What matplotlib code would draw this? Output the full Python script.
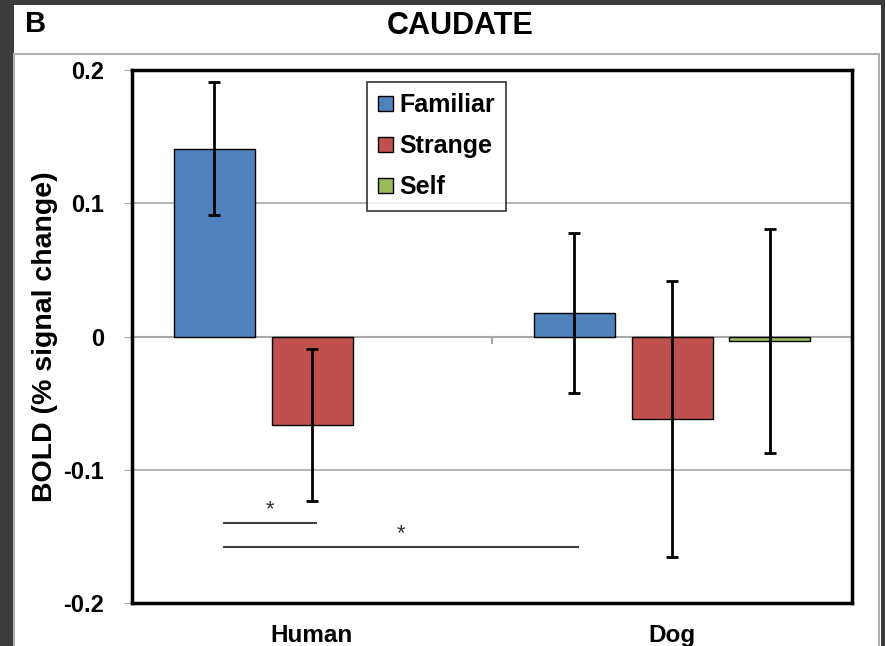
import numpy as np
import matplotlib.pyplot as plt
from matplotlib.patches import Rectangle

groups = ["Human", "Dog"]
conditions = ["Familiar", "Strange", "Self"]
colors = ["#4F81BD", "#C0504D", "#9BBB59"]

# mean BOLD per condition, [Human, Dog]
familiar = [0.141, 0.0175]
strange = [-0.0665, -0.062]
self_ = [np.nan, -0.0035]
familiar_err = [0.050, 0.060]
strange_err = [0.057, 0.1035]
self_err = [np.nan, 0.084]

# significance brackets: (x start, x end, y, label)
sig_lines = [(-0.245, 0.01, -0.140, "*"), (-0.245, 0.74, -0.158, "*")]

plt.rcParams['font.family'] = ['Liberation Sans', 'DejaVu Sans']
plt.rcParams['font.weight'] = 'bold'

fig = plt.figure(figsize=(8.85, 6.46), dpi=100, facecolor="#3c3c3c")
fig.patches.append(Rectangle((14 / 885, 0), 867 / 885, 641 / 646, transform=fig.transFigure,
                             facecolor="white", edgecolor="none", zorder=-2))
fig.patches.append(Rectangle((14 / 885, -0.01), 865 / 885, 1 - 54 / 646 + 0.01, transform=fig.transFigure,
                             facecolor="none", edgecolor="#b0b0b0", lw=1.5, zorder=-1))

ax = fig.add_axes([132 / 885, 1 - 603 / 646, 720 / 885, 533 / 646])
ax.set_zorder(2)

x = np.arange(len(groups))
w = 0.225
step = 0.272
series = [(familiar, familiar_err), (strange, strange_err), (self_, self_err)]
for i, (vals, errs) in enumerate(series):
    pos = x + (i - 1) * step
    ax.bar(pos, vals, w, color=colors[i], edgecolor="black", linewidth=1, label=conditions[i], zorder=3)
    ax.errorbar(pos, vals, yerr=errs, fmt="none", ecolor="black", elinewidth=2,
                capsize=4.5, capthick=2, zorder=4)

ax.set_xlim(-0.5, 1.5)
ax.set_ylim(-0.2, 0.2)
ax.set_yticks([-0.2, -0.1, 0, 0.1, 0.2])
ax.set_yticklabels(["-0.2", "-0.1", "0", "0.1", "0.2"], fontsize=17, fontweight="bold")
for yv in [0.1, -0.1]:
    ax.axhline(yv, color="#a8a8a8", lw=1.2, zorder=1)
ax.axhline(0, color="#a8a8a8", lw=1.5, zorder=2)
for b in (x[:-1] + x[1:]) / 2:
    ax.plot([b, b], [0, -0.005], color="#a8a8a8", lw=1.5, zorder=2)

ax.set_xticks(x)
ax.set_xticklabels(groups, fontsize=17.5, fontweight="bold")
ax.tick_params(axis="x", length=0, pad=15)
ax.tick_params(axis="y", length=6, color="#a8a8a8", pad=14)
for s in ax.spines.values():
    s.set_linewidth(2.5)
    s.set_color("black")

ax.set_ylabel("BOLD (% signal change)", fontsize=20.5, fontweight="bold", labelpad=4)

for x0, x1, yv, lab in sig_lines:
    ax.plot([x0, x1], [yv, yv], color="#404040", lw=1.5, zorder=3)
    ax.text((x0 + x1) / 2, yv + 0.002, lab, ha="center", va="bottom", fontsize=16,
            fontweight="normal", color="#303030")

leg = ax.legend(loc="upper left", bbox_to_anchor=((367 - 132) / 720, (603 - 82) / 533),
                fontsize=18, frameon=True, fancybox=False, edgecolor="black",
                handlelength=0.6, handleheight=0.6, handletextpad=0.25,
                labelspacing=0.68, borderpad=0.45, borderaxespad=0)
leg.get_frame().set_linewidth(1.2)
leg.set_zorder(5)
for t in leg.get_texts():
    t.set_fontweight("bold")

fig.text(460 / 885, 1 - 26 / 646, "CAUDATE", ha="center", va="center", fontsize=22, fontweight="bold")
fig.text(25 / 885, 1 - 10 / 646, "B", ha="left", va="top", fontsize=21, fontweight="bold")

fig.savefig("out.png", dpi=100, facecolor=fig.get_facecolor())
